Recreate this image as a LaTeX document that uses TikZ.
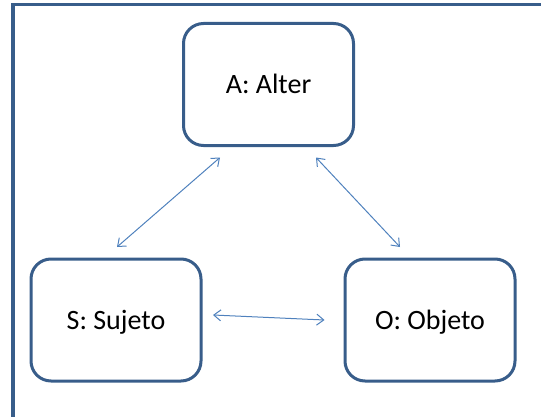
\documentclass[tikz,border=0pt]{standalone}
\usepackage{fontspec}
\setmainfont{Carlito}
\usetikzlibrary{arrows.meta}
\definecolor{boxblue}{HTML}{385D8A}
\definecolor{linkblue}{HTML}{4F81BD}
\begin{document}
\begin{tikzpicture}[x=1pt,y=1pt,font=\fontsize{28}{34}\selectfont,
  role/.style={draw=boxblue,line width=3pt,rounded corners=20pt,minimum width=170pt,minimum height=122pt,inner sep=0pt,text height=18pt,text depth=0pt},
  link/.style={draw=linkblue,line width=1pt,{Straight Barb[length=7pt,width=11pt]}-{Straight Barb[length=7pt,width=11pt]}}]
\path[use as bounding box] (0,0) rectangle (541,416);
\draw[boxblue,line width=3.5pt] (13,-10) -- (13,411.5) -- (560,411.5);
\node[role] (A) at (268.5,331.5) {A: Alter};
\node[role] (S) at (116,96) {S: Sujeto};
\node[role] (O) at (430,96) {O: Objeto};
\draw[link] ([xshift=-48.5pt,yshift=-10.5pt]A.south) -- ([xshift=1pt,yshift=10.5pt]S.north);
\draw[link] ([xshift=47.5pt,yshift=-10.5pt]A.south) -- ([xshift=-30pt,yshift=10.5pt]O.north);
\draw[link] ([xshift=10.5pt,yshift=5pt]S.east) -- ([xshift=-19pt]O.west);
\end{tikzpicture}
\end{document}
